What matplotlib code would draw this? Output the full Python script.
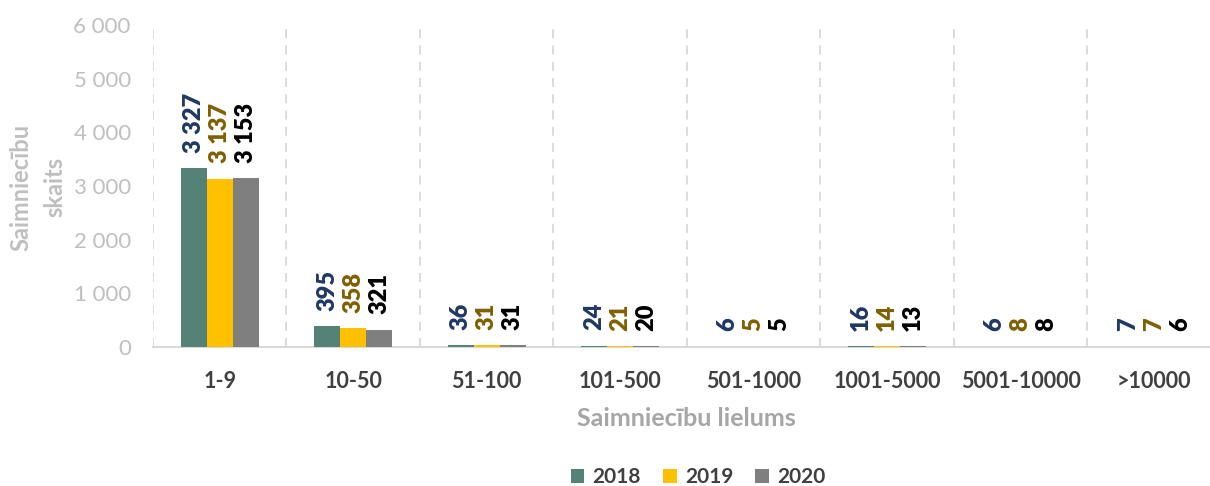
import matplotlib
matplotlib.use("Agg")
import matplotlib.pyplot as plt
from matplotlib.patches import Patch
import numpy as np

categories = ["1-9", "10-50", "51-100", "101-500", "501-1000", "1001-5000", "5001-10000", ">10000"]
years = ["2018", "2019", "2020"]
v2018 = [3327, 395, 36, 24, 6, 16, 6, 7]
v2019 = [3137, 358, 31, 21, 5, 14, 8, 7]
v2020 = [3153, 321, 31, 20, 5, 13, 8, 6]
series = [v2018, v2019, v2020]
bar_colors = ["#548276", "#FFC000", "#7F7F7F"]
label_colors = ["#1F3864", "#7F6000", "#000000"]
yticks = [0, 1000, 2000, 3000, 4000, 5000, 6000]

plt.rcParams['font.family'] = ['Lato', 'DejaVu Sans']

W, H = 1210, 486
fig = plt.figure(figsize=(W / 100, H / 100), dpi=100)
ax = fig.add_axes([153 / W, 1 - 347 / H, 1 - 153 / W, (347 - 25) / H])

x = np.arange(len(categories))
bw = 0.195
for i, (vals, c, lc) in enumerate(zip(series, bar_colors, label_colors)):
    pos = x + (i - 1) * bw
    ax.bar(pos, vals, width=bw, color=c, zorder=3)
    for p, v in zip(pos, vals):
        ax.annotate(f"{v:,}".replace(",", " "), (p, v), xytext=(0, 11), textcoords="offset points",
                    rotation=90, ha="center", va="bottom", fontsize=17, fontweight="heavy", color=lc)

ax.set_xlim(-0.5, 7.42)
ax.set_ylim(0, 6000)
ax.set_yticks(yticks)
ax.set_yticklabels([f"{t:,}".replace(",", " ") for t in yticks])
ax.set_xticks(x)
ax.set_xticklabels(categories, fontweight="bold")
for b in np.arange(-0.5, 7.0, 1.0):
    ax.axvline(b, color="#D9D9D9", linestyle=(0, (5, 4)), linewidth=1.3, zorder=1)

for s in ["top", "right", "left"]:
    ax.spines[s].set_visible(False)
ax.spines["bottom"].set_color("#D9D9D9")
ax.spines["bottom"].set_linewidth(1.5)
ax.tick_params(axis="y", length=0, pad=16, labelsize=16, labelcolor="#BFBFBF")
ax.tick_params(axis="x", length=0, pad=17, labelsize=15.5, labelcolor="#404040")

fig.text(686 / W, 1 - 418 / H, "Saimniecību lielums", ha="center", va="center",
         fontsize=18, fontweight="bold", color="#A6A6A6")
fig.text(38 / W, 1 - 187 / H, "Saimniecību\nskaits", ha="center", va="center", rotation=90,
         fontsize=17, fontweight="bold", color="#BFBFBF", multialignment="center", linespacing=1.55)

handles = [Patch(facecolor=c, edgecolor="none") for c in bar_colors]
fig.legend(handles, years, loc="center", bbox_to_anchor=(698 / W, 1 - 477 / H), ncol=3, frameon=False,
           prop={"weight": "bold", "size": 15}, labelcolor="#404040", handlelength=0.65, handleheight=0.65,
           handletextpad=0.4, columnspacing=1.05)

fig.savefig("out.png", dpi=100)
